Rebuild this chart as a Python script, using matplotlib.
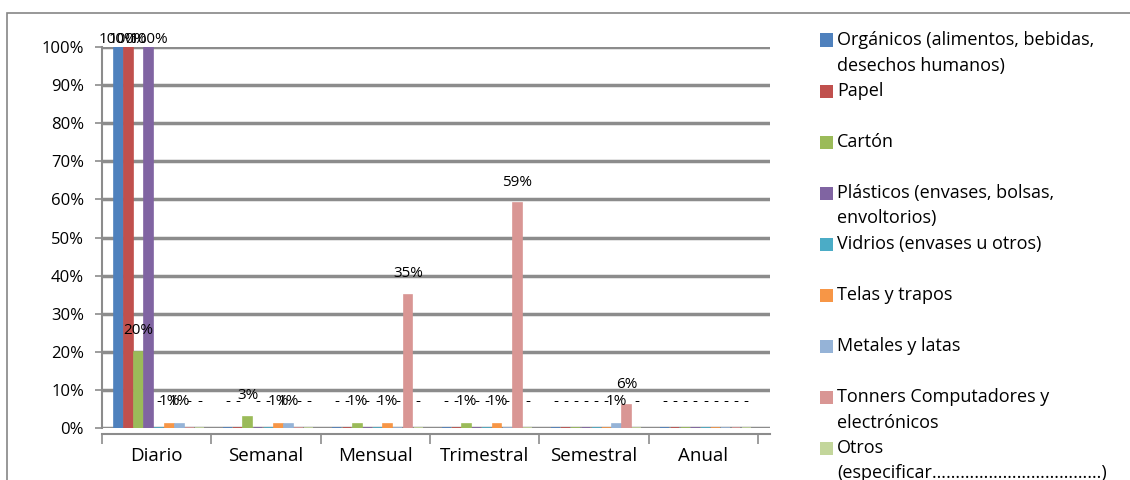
import numpy as np
import matplotlib.pyplot as plt
from matplotlib.patches import Rectangle
from matplotlib.ticker import FixedLocator

plt.rcParams['font.family'] = ['Open Sans', 'DejaVu Sans']

categories = ["Diario", "Semanal", "Mensual", "Trimestral", "Semestral", "Anual"]
series_names = [
    "Orgánicos (alimentos, bebidas,\ndesechos humanos)",
    "Papel",
    "Cartón",
    "Plásticos (envases, bolsas,\nenvoltorios)",
    "Vidrios (envases u otros)",
    "Telas y trapos",
    "Metales y latas",
    "Tonners Computadores y\nelectrónicos",
    "Otros\n(especificar\u2026\u2026\u2026\u2026\u2026\u2026\u2026\u2026\u2026\u2026\u2026\u2026)",
]
organicos = [100, 0, 0, 0, 0, 0]
papel = [100, 0, 0, 0, 0, 0]
carton = [20, 3, 1, 1, 0, 0]
plasticos = [100, 0, 0, 0, 0, 0]
vidrios = [0, 0, 0, 0, 0, 0]
telas = [1, 1, 1, 1, 0, 0]
metales = [1, 1, 0, 0, 1, 0]
tonners = [0, 0, 35, 59, 6, 0]
otros = [0, 0, 0, 0, 0, 0]
values = [organicos, papel, carton, plasticos, vidrios, telas, metales, tonners, otros]

colors = ["#4F81BD", "#C0504D", "#9BBB59", "#8064A2", "#4BACC6",
          "#F79646", "#95B3D7", "#D99694", "#C3D69B"]

W, H = 1130, 480
fig = plt.figure(figsize=(W / 100, H / 100), dpi=100)

# outer chart border
fig.add_artist(Rectangle((7 / W, -0.02), 1.1, 1 - 13 / H + 0.02, transform=fig.transFigure,
                         fill=False, edgecolor="#868686", lw=1.2))

ax = fig.add_axes([102 / W, 1 - 428 / H, 668 / W, 381 / H])
x = np.arange(len(categories))
step = 0.093
width = 0.082
for i, (vals, c) in enumerate(zip(values, colors)):
    pos = x + (i - 4) * step + 0.02
    ax.bar(pos, vals, width, color=c, edgecolor=c, lw=1.2, zorder=3)
    for xp, v in zip(pos, vals):
        txt = "-" if v == 0 else f"{v}%"
        ax.text(xp, np.clip(v + 5.5, 7, 102), txt, ha="center", va="center",
                fontsize=11, color="#000000", clip_on=False, zorder=5)

ax.set_xlim(-0.5, len(categories) - 0.5 + 0.11)
ax.set_ylim(0, 100)
ax.set_yticks(np.arange(0, 101, 10))
ax.set_yticklabels([f"{t}%" for t in range(0, 101, 10)])
ax.set_xticks(x)
ax.set_xticklabels(categories)
ax.xaxis.set_minor_locator(FixedLocator(np.arange(-0.5, len(categories), 1)))
ax.tick_params(axis="x", which="major", length=0, pad=10, labelsize=13.5)
ax.tick_params(axis="x", which="minor", length=7, color="#8c8c8c", width=1.2)
ax.tick_params(axis="y", length=5, color="#8c8c8c", width=1.2, pad=8, labelsize=12)
ax.grid(axis="y", color="#8c8c8c", lw=2.5, zorder=0)
for s in ["top", "right"]:
    ax.spines[s].set_visible(False)
ax.spines["left"].set_color("#8c8c8c")
ax.spines["left"].set_linewidth(1.5)
ax.spines["bottom"].set_color("#8c8c8c")
ax.spines["bottom"].set_linewidth(1.5)
ax.spines["bottom"].set_position(("outward", 4))

# legend drawn by hand to keep Excel-like spacing
y0 = 40
slot = 51
line = 25.5
for i, (name, c) in enumerate(zip(series_names, colors)):
    yc = y0 + i * slot
    fig.add_artist(Rectangle((820 / W, 1 - (yc + 6.5) / H), 13 / W, 13 / H,
                             transform=fig.transFigure, facecolor=c, edgecolor="none"))
    for k, ln in enumerate(name.split("\n")):
        fig.text(837 / W, 1 - (yc + k * line) / H, ln, ha="left", va="center",
                 fontsize=13, color="#000000")

fig.savefig("out.png", dpi=100)
